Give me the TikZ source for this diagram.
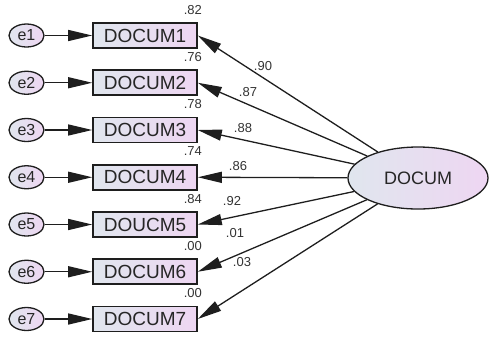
\documentclass[tikz,border=0pt]{standalone}
\usepackage{fontspec}
\setmainfont{Liberation Sans}
\usetikzlibrary{arrows.meta,shapes.geometric,calc}
\definecolor{fillL}{RGB}{224,230,238}
\definecolor{fillR}{RGB}{238,214,242}
\definecolor{edgec}{RGB}{30,30,30}
\begin{document}
\begin{tikzpicture}[x=1pt,y=-1pt,
  obs/.style={draw=edgec,line width=1.6pt,left color=fillL,right color=fillR,
    minimum width=104pt,minimum height=25pt,inner sep=0pt,
    font=\fontsize{19}{19}\selectfont,text=black!85},
  err/.style={ellipse,draw=edgec,line width=1.3pt,left color=fillL,right color=fillR,
    minimum width=35pt,minimum height=23pt,inner sep=0pt,
    font=\fontsize{16}{16}\selectfont,text=black!85},
  lat/.style={ellipse,draw=edgec,line width=1.3pt,left color=fillL,right color=fillR,
    minimum width=140pt,minimum height=62pt,inner sep=0pt,
    font=\fontsize{18}{18}\selectfont,text=black!85},
  link/.style={draw=edgec,line width=1.3pt,-{Triangle[length=24pt,width=11pt]}},
  coef/.style={font=\fontsize{13}{13}\selectfont,text=black!80,inner sep=0pt}
]
\useasboundingbox (0,0) rectangle (490,338);

% latent factor
\node[lat] (docum) at (418,178) {DOCUM};

% indicators with their error terms and squared multiple correlations
\foreach \i/\y/\lbl/\rsq in {1/35.5/DOCUM1/.82, 2/82.75/DOCUM2/.76, 3/130/DOCUM3/.78,
    4/177.25/DOCUM4/.74, 5/224.5/DOUCM5/.84, 6/271.75/DOCUM6/.00, 7/319/DOCUM7/.00}{
  \node[obs] (x\i) at (145,\y) {\lbl};
  \node[err] (e\i) at (26.5,\y) {e\i};
  \draw[link] (e\i) -- (x\i);
  \draw[link] (docum) -- (x\i.east);
  \node[coef] (r\i) at ($(x\i.north east)+(-5,-12.5)$) {\rsq};
}

% standardized loadings
\node[coef] (l1) at (263,66) {.90};
\node[coef] (l2) at (248,92) {.87};
\node[coef] (l3) at (243,128) {.88};
\node[coef] (l4) at (238,166) {.86};
\node[coef] (l5) at (232,201) {.92};
\node[coef] (l6) at (235,233) {.01};
\node[coef] (l7) at (242,262) {.03};
\end{tikzpicture}
\end{document}
